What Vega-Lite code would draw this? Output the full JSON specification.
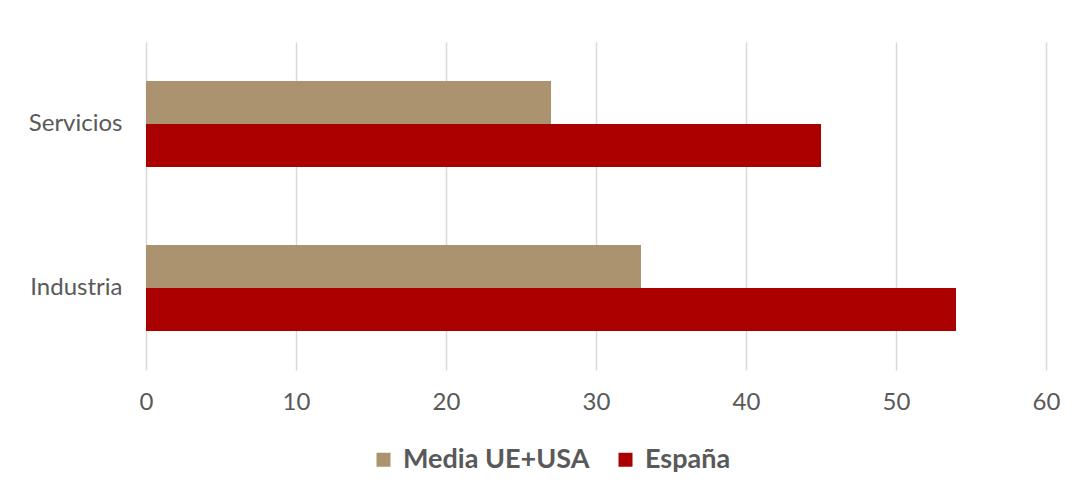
{
  "$schema": "https://vega.github.io/schema/vega-lite/v6.json",
  "width": 900,
  "height": 328,
  "autosize": "none",
  "padding": {"left": 146, "top": 42, "right": 30, "bottom": 120},
  "background": "white",
  "data": {"values": [
    {"sector": "Servicios", "serie": "Media UE+USA", "valor": 27},
    {"sector": "Servicios", "serie": "España", "valor": 45},
    {"sector": "Industria", "serie": "Media UE+USA", "valor": 33},
    {"sector": "Industria", "serie": "España", "valor": 54}
  ]},
  "mark": {"type": "bar"},
  "encoding": {
    "y": {"field": "sector", "type": "nominal", "sort": ["Servicios", "Industria"],
      "scale": {"paddingInner": 0, "paddingOuter": 0},
      "axis": {"title": null, "domain": false, "ticks": false, "grid": false, "labelFont": "Lato", "labelFontSize": 24, "labelColor": "#595959", "labelPadding": 24}},
    "yOffset": {"field": "serie", "type": "nominal", "sort": ["Media UE+USA", "España"],
      "scale": {"paddingOuter": 0.907, "paddingInner": 0}},
    "x": {"field": "valor", "type": "quantitative",
      "scale": {"domain": [0, 60], "nice": false},
      "axis": {"title": null, "values": [0,10,20,30,40,50,60], "domain": false, "ticks": false, "grid": true, "gridColor": "#D9D9D9", "gridWidth": 1.5, "labelFont": "Lato", "labelFontSize": 24, "labelColor": "#595959", "labelPadding": 20, "labelFlush": false}},
    "color": {"field": "serie", "type": "nominal",
      "scale": {"domain": ["Media UE+USA", "España"], "range": ["#AB936F", "#AA0000"]},
      "legend": {"title": null, "orient": "none", "legendX": 224, "legendY": 404, "direction": "horizontal",
        "symbolType": "square", "symbolSize": 196, "symbolStrokeWidth": 0, "symbolOpacity": 1,
        "labelFont": "Lato", "labelFontSize": 27, "labelFontWeight": "bold", "labelColor": "#595959", "labelLimit": 400,
        "columnPadding": 22, "labelOffset": 6}}
  },
  "config": {"view": {"stroke": null}}
}
